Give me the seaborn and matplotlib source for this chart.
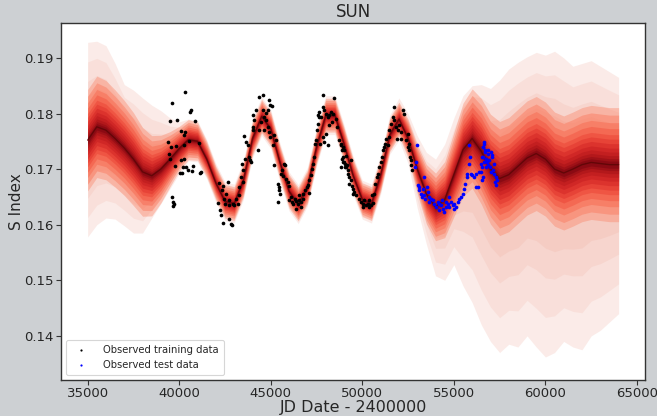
import numpy as np
import pandas as pd
import matplotlib
matplotlib.use("Agg")
import matplotlib.pyplot as plt
import seaborn as sns

# ---------------- data ----------------
knots_jd = [35000, 35500, 36000, 36500, 37000, 37500, 38000, 38500, 39000, 39500,
            40000, 40500, 41000, 41500, 42000, 42500, 43000, 43500, 44000, 44500,
            45000, 45500, 46000, 46500, 47000, 47500, 48000, 48500, 49000, 49500,
            50000, 50500, 51000, 51500, 52000, 52500, 53000, 53500, 54000, 54500,
            55000, 55500, 56000, 56500, 57000, 57500, 58000, 58500, 59000, 59500,
            60000, 60500, 61000, 61500, 62000, 62500, 63000, 63500, 64000]

mean_s = [0.1752, 0.1776, 0.1770, 0.1755, 0.1738, 0.1718, 0.1695, 0.1688, 0.1700, 0.1718,
          0.1737, 0.1753, 0.1750, 0.1718, 0.1675, 0.1642, 0.1638, 0.1680, 0.1755, 0.1795,
          0.1772, 0.1712, 0.1660, 0.1637, 0.1668, 0.1740, 0.1797, 0.1797, 0.1745, 0.1688,
          0.1645, 0.1638, 0.1690, 0.1762, 0.1790, 0.1755, 0.1700, 0.1655, 0.1632, 0.1645,
          0.1690, 0.1735, 0.1755, 0.1732, 0.1700, 0.1683, 0.1690, 0.1705, 0.1720, 0.1728,
          0.1718, 0.1700, 0.1693, 0.1700, 0.1708, 0.1712, 0.1710, 0.1708, 0.1708]

sigma_s = [0.0048, 0.0048, 0.0047, 0.0046, 0.0045, 0.0044, 0.0042, 0.0038, 0.0032, 0.0026,
           0.0021, 0.0019, 0.0018, 0.0017, 0.0016, 0.0016, 0.0016, 0.0016, 0.0016, 0.0016,
           0.0016, 0.0016, 0.0016, 0.0016, 0.0016, 0.0016, 0.0016, 0.0016, 0.0016, 0.0016,
           0.0016, 0.0016, 0.0016, 0.0016, 0.0016, 0.0018, 0.0023, 0.0028, 0.0032, 0.0036,
           0.0040, 0.0044, 0.0047, 0.0050, 0.0052, 0.0054, 0.0054, 0.0054, 0.0054, 0.0054,
           0.0054, 0.0054, 0.0054, 0.0054, 0.0054, 0.0054, 0.0054, 0.0054, 0.0054]

env_upper = [0.1928, 0.1930, 0.1922, 0.1890, 0.1852, 0.1842, 0.1828, 0.1815, 0.1805, 0.1792,
             0.1785, 0.1790, 0.1787, 0.1753, 0.1710, 0.1677, 0.1673, 0.1715, 0.1790, 0.1830,
             0.1807, 0.1747, 0.1695, 0.1672, 0.1703, 0.1775, 0.1832, 0.1832, 0.1780, 0.1723,
             0.1680, 0.1673, 0.1725, 0.1797, 0.1828, 0.1800, 0.1760, 0.1730, 0.1718, 0.1745,
             0.1792, 0.1832, 0.1850, 0.1852, 0.1845, 0.1860, 0.1880, 0.1892, 0.1902, 0.1910,
             0.1905, 0.1912, 0.1900, 0.1885, 0.1890, 0.1895, 0.1885, 0.1875, 0.1865]

env_lower = [0.1578, 0.1600, 0.1612, 0.1610, 0.1598, 0.1585, 0.1585, 0.1612, 0.1638, 0.1665,
             0.1692, 0.1715, 0.1713, 0.1683, 0.1640, 0.1607, 0.1603, 0.1645, 0.1720, 0.1760,
             0.1737, 0.1677, 0.1625, 0.1602, 0.1633, 0.1705, 0.1762, 0.1762, 0.1710, 0.1653,
             0.1610, 0.1603, 0.1655, 0.1727, 0.1752, 0.1710, 0.1630, 0.1565, 0.1508, 0.1500,
             0.1528, 0.1490, 0.1460, 0.1420, 0.1390, 0.1370, 0.1385, 0.1380, 0.1400, 0.1380,
             0.1362, 0.1370, 0.1390, 0.1380, 0.1375, 0.1400, 0.1410, 0.1425, 0.1440]

train_jd = [40309, 39581, 40618, 40563, 39509, 39890, 40854, 40091, 40327, 40236,
            39400, 39563, 39800, 40236, 40509, 41072, 39436, 39472, 40091, 40272,
            39745, 40181, 40345, 40727, 40490, 40054, 40145, 40690, 41163, 39618,
            39654, 39672, 39709,
            41201, 42164, 42419, 42655, 42346, 42564, 42110, 42474, 42710, 42528,
            42746, 42928, 43019, 43110, 43201, 42237, 42292, 42383, 42710, 42837,
            42892, 43292, 43255, 43473, 43383, 43510, 43437, 43564, 43655, 43746,
            43837, 43873, 43928, 43619, 44019, 44055, 44110, 44019, 44201, 44292,
            44346, 44564, 44891, 44964, 45073, 44837, 44655, 44473, 44746, 44382,
            44655, 44928, 44837, 44964, 45201, 45291, 44746, 44564, 45146, 45201,
            45382, 45437, 45473, 45510, 45400, 45564, 45655, 45746, 45800, 45837,
            45928, 46019, 45619, 45982, 46110, 46164, 46237, 46310, 46382, 46473,
            46564, 46655, 46746, 46782, 46528, 46891, 46964, 47019, 47110, 47073,
            46655, 46382, 47200, 47255, 47291, 47382, 47437, 47473, 47509, 47564,
            47619, 47873, 47564, 47655, 47746, 47837, 47928, 48018, 48109, 48200,
            48291, 48382, 48473, 48564, 48600, 48346, 48164, 47837, 47928, 48109,
            47691, 48018, 48746, 48837, 48891, 48964, 49018, 49109, 48837, 49073,
            49200,
            48838, 48929, 49020, 48892, 48965, 49074, 49111, 49202, 49292, 49383,
            49256, 49438, 49511, 49565, 49474, 49656, 49147, 49383, 49838, 49929,
            50020, 50111, 50201, 50292, 50383, 50474, 50565, 50056, 50347, 50529,
            50656, 50710, 50783, 50838, 50929, 51020, 51074, 51147, 51201, 51256,
            51292, 51383, 51474, 51438, 51747, 51565, 51656, 51747, 51838, 51929,
            51983, 52110, 52201, 52292, 52110, 51874, 52383, 52474, 52528, 52565,
            52601, 52656, 52710, 52656, 52474]

train_s = [0.1838, 0.1818, 0.1807, 0.1802, 0.1786, 0.1789, 0.1786, 0.1769, 0.1766, 0.1761,
           0.1748, 0.1739, 0.1742, 0.1743, 0.1750, 0.1747, 0.1727, 0.1718, 0.1716, 0.1718,
           0.1706, 0.1703, 0.1704, 0.1705, 0.1698, 0.1693, 0.1693, 0.1696, 0.1693, 0.1649,
           0.1640, 0.1634, 0.1638,
           0.1695, 0.1675, 0.1670, 0.1677, 0.1662, 0.1656, 0.1639, 0.1647, 0.1644, 0.1638,
           0.1635, 0.1638, 0.1635, 0.1647, 0.1638, 0.1626, 0.1617, 0.1603, 0.1611, 0.1602,
           0.1599, 0.1668, 0.1653, 0.1677, 0.1686, 0.1698, 0.1710, 0.1759, 0.1749, 0.1743,
           0.1722, 0.1716, 0.1713, 0.1719, 0.1770, 0.1776, 0.1788, 0.1797, 0.1806, 0.1734,
           0.1830, 0.1833, 0.1824, 0.1815, 0.1813, 0.1806, 0.1794, 0.1785, 0.1788, 0.1770,
           0.1770, 0.1767, 0.1776, 0.1758, 0.1761, 0.1753, 0.1801, 0.1806, 0.1743, 0.1707,
           0.1674, 0.1668, 0.1663, 0.1655, 0.1641, 0.1692, 0.1687, 0.1710, 0.1707, 0.1683,
           0.1677, 0.1669, 0.1698, 0.1644, 0.1650, 0.1641, 0.1638, 0.1647, 0.1643, 0.1638,
           0.1645, 0.1641, 0.1647, 0.1656, 0.1653, 0.1662, 0.1668, 0.1671, 0.1680, 0.1657,
           0.1632, 0.1629, 0.1689, 0.1701, 0.1710, 0.1722, 0.1746, 0.1752, 0.1770, 0.1782,
           0.1794, 0.1833, 0.1797, 0.1803, 0.1793, 0.1812, 0.1806, 0.1800, 0.1794, 0.1797,
           0.1803, 0.1800, 0.1827, 0.1791, 0.1776, 0.1785, 0.1779, 0.1758, 0.1749, 0.1743,
           0.1746, 0.1764, 0.1752, 0.1743, 0.1734, 0.1722, 0.1713, 0.1704, 0.1703, 0.1710,
           0.1692,
           0.1746, 0.1740, 0.1734, 0.1719, 0.1713, 0.1704, 0.1723, 0.1698, 0.1686, 0.1680,
           0.1674, 0.1669, 0.1665, 0.1659, 0.1656, 0.1653, 0.1707, 0.1716, 0.1647, 0.1641,
           0.1638, 0.1644, 0.1635, 0.1638, 0.1632, 0.1635, 0.1639, 0.1632, 0.1644, 0.1653,
           0.1656, 0.1674, 0.1686, 0.1692, 0.1704, 0.1713, 0.1722, 0.1734, 0.1740, 0.1746,
           0.1755, 0.1743, 0.1758, 0.1770, 0.1812, 0.1782, 0.1794, 0.1788, 0.1776, 0.1770,
           0.1779, 0.1767, 0.1806, 0.1800, 0.1755, 0.1755, 0.1752, 0.1764, 0.1746, 0.1734,
           0.1722, 0.1707, 0.1698, 0.1716, 0.1740]

test_jd = [52965, 52928, 52892, 53383, 53019, 53110, 53074, 53201, 53292, 53383,
           53510, 53565, 53656, 53747, 53619, 53837, 53928, 54019, 54110, 54201,
           54292, 54383, 54474, 54565, 54656, 54746, 54837, 54928, 55019, 55110,
           55201, 55292, 55383, 55474, 55565, 55619, 55692, 55746, 55801, 55837,
           55874, 55928, 56019, 56110, 56201, 56237, 56346, 56383, 56474, 56564,
           56601, 56655, 56710, 56746, 56783, 56837, 56892, 54165, 53437, 53256,
           54565, 54347, 54746, 55019,
           56657, 56602, 56711, 56566, 56657, 56748, 56529, 56475, 56602, 56529,
           56839, 57020, 57075, 57111, 56929, 56839, 56966, 57148, 57202, 57293,
           57257, 57384, 57329, 57202, 57020]

test_s = [0.1743, 0.1713, 0.1704, 0.1686, 0.1671, 0.1668, 0.1662, 0.1656, 0.1665, 0.1653,
          0.1668, 0.1659, 0.1650, 0.1647, 0.1641, 0.1644, 0.1638, 0.1632, 0.1641, 0.1638,
          0.1635, 0.1629, 0.1623, 0.1632, 0.1638, 0.1650, 0.1641, 0.1635, 0.1638, 0.1632,
          0.1641, 0.1647, 0.1650, 0.1656, 0.1665, 0.1674, 0.1686, 0.1692, 0.1710, 0.1743,
          0.1722, 0.1692, 0.1689, 0.1686, 0.1692, 0.1668, 0.1668, 0.1695, 0.1710, 0.1722,
          0.1740, 0.1746, 0.1734, 0.1719, 0.1704, 0.1713, 0.1728, 0.1626, 0.1647, 0.1650,
          0.1641, 0.1644, 0.1632, 0.1629,
          0.1749, 0.1740, 0.1731, 0.1722, 0.1713, 0.1719, 0.1704, 0.1695, 0.1686, 0.1680,
          0.1734, 0.1731, 0.1725, 0.1722, 0.1716, 0.1707, 0.1704, 0.1698, 0.1692, 0.1686,
          0.1677, 0.1680, 0.1671, 0.1710, 0.1695]

title = "SUN"
x_label = "JD Date - 2400000"
y_label = "S Index"
x_ticks = [35000, 40000, 45000, 50000, 55000, 60000, 65000]
y_ticks = [0.14, 0.15, 0.16, 0.17, 0.18, 0.19]

# ---------------- drawing ----------------
sns.set_theme(style="ticks")
plt.rcParams['font.family'] = ['DejaVu Sans']

fig = plt.figure(figsize=(6.57, 4.16), dpi=100, facecolor='#cdd0d3')
ax = fig.add_axes([0.093, 0.087, 0.889, 0.858])
ax.set_facecolor('white')

kx = np.array(knots_jd, dtype=float)
mu = np.array(mean_s)
sg = np.array(sigma_s)
up = np.array(env_upper)
lo = np.array(env_lower)

# faint spread of posterior samples
ax.fill_between(kx, lo, up, color='#f8dcd6', alpha=0.55, linewidth=0)
for f, a in [(0.8, 0.20), (0.6, 0.22), (0.45, 0.25)]:
    ax.fill_between(kx, mu + f * (lo - mu), mu + f * (up - mu),
                    color='#f1b3a4', alpha=a, linewidth=0)
# denser core: a smooth stack of semi-transparent red layers
cmap = sns.color_palette("Reds", as_cmap=True)
levels = [1.9, 1.65, 1.4, 1.2, 1.0, 0.85, 0.7, 0.55, 0.42, 0.3, 0.2, 0.12]
for i, k in enumerate(levels):
    c = cmap(0.45 + 0.55 * i / (len(levels) - 1))
    ax.fill_between(kx, mu - k * sg, mu + k * sg, color=c, alpha=0.36, linewidth=0)
sns.lineplot(x=kx, y=mu, ax=ax, color='#5a0505', linewidth=1.0, alpha=0.8)

train_df = pd.DataFrame({"jd": train_jd, "s": train_s})
test_df = pd.DataFrame({"jd": test_jd, "s": test_s})
sns.scatterplot(data=train_df, x="jd", y="s", ax=ax, color='black', s=7,
                linewidth=0, label="Observed training data", zorder=5)
sns.scatterplot(data=test_df, x="jd", y="s", ax=ax, color='blue', s=7,
                linewidth=0, label="Observed test data", zorder=5)

ax.set_xlim(33550, 65450)
ax.set_ylim(0.1321, 0.1963)
ax.set_xticks(x_ticks)
ax.set_yticks(y_ticks)
ax.set_xticklabels([str(t) for t in x_ticks], fontsize=9.5)
ax.set_yticklabels([f"{t:.2f}" for t in y_ticks], fontsize=9.5)
ax.tick_params(length=3.5, width=0.8, color='#333333', pad=2)
for sp in ax.spines.values():
    sp.set_color('#333333')
    sp.set_linewidth(1.0)

ax.set_title(title, fontsize=12, pad=4)
ax.set_xlabel(x_label, fontsize=11.5, labelpad=0)
ax.set_ylabel(y_label, fontsize=11, labelpad=0)

leg = ax.legend(loc='lower left', fontsize=7.2, markerscale=0.6, frameon=True,
                borderpad=0.5, handletextpad=1.2, labelspacing=0.5)
leg.get_frame().set_edgecolor('#cccccc')
leg.get_frame().set_linewidth(0.8)

fig.savefig("out.png", dpi=100, facecolor=fig.get_facecolor())
